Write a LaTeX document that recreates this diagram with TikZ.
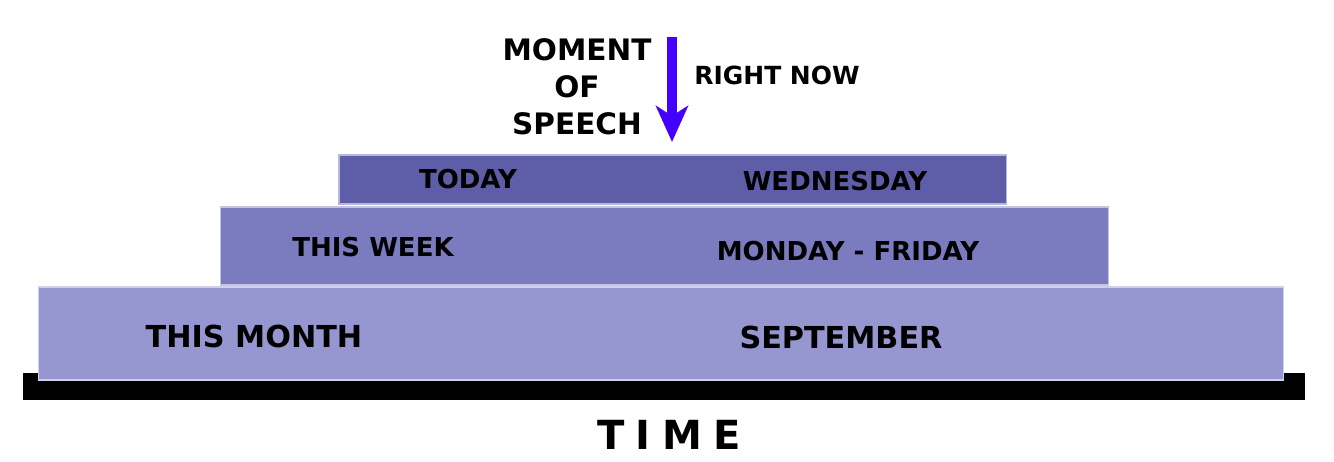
\documentclass[tikz,border=0pt]{standalone}
\usepackage{fontspec}
\setmainfont{DejaVu Sans}
\newfontfamily\timefont[LetterSpace=28]{DejaVu Sans Bold}
\usetikzlibrary{arrows.meta}
\definecolor{todaycol}{RGB}{94,94,168}
\definecolor{weekcol}{RGB}{123,123,192}
\definecolor{monthcol}{RGB}{150,150,208}
\definecolor{nowcol}{RGB}{68,0,255}
\tikzset{
  period/.style={rectangle, inner sep=0pt, draw=white!55!#1, line width=0.4pt, fill=#1},
  tag/.style={font=\bfseries\fontsize{7.4}{9}\selectfont, inner sep=0pt}
}

\begin{document}
\begin{tikzpicture}[x=0.01cm, y=-0.01cm]
\useasboundingbox (0,0) rectangle (1334,462);
% Time line
    \node[rectangle, fill=black, inner sep=0pt, minimum width=12.82cm, minimum height=0.27cm] (timeline) at (664,386.5) {};
% Periods
    \node[period=monthcol, minimum width=12.44cm, minimum height=0.93cm] (month) at (661,333.5) {};
    \node[period=weekcol, minimum width=8.87cm, minimum height=0.78cm] (week) at (664.5,246) {};
    \node[period=todaycol, minimum width=6.67cm, minimum height=0.49cm] (today) at (672.5,179.5) {};
% Labels
    \node[tag] (todaylbl) at (468,179) {TODAY};
    \node[tag] (wedlbl) at (835,181) {WEDNESDAY};
    \node[tag] (weeklbl) at (373,247) {THIS WEEK};
    \node[tag] (monfrilbl) at (848,251) {MONDAY - FRIDAY};
    \node[tag, font=\bfseries\fontsize{8.6}{10}\selectfont] (monthlbl) at (254,337) {THIS MONTH};
    \node[tag, font=\bfseries\fontsize{8.6}{10}\selectfont] (seplbl) at (841,338) {SEPTEMBER};
    \node[tag, font=\timefont\fontsize{11.4}{13}\selectfont] (timelbl) at (669,435) {TIME};
% Moment of speech
    \node[tag, font=\bfseries\fontsize{8.4}{10.5}\selectfont, align=center] (moment) at (577,87) {MOMENT\\OF\\SPEECH};
    \node[tag, font=\bfseries\fontsize{7.1}{9}\selectfont] (nowlbl) at (777,75) {RIGHT NOW};
    \coordinate (nowtop) at (672,37);
    \coordinate (nowtip) at (672,142);
    \draw[nowcol, line width=2.9pt, -{Stealth[length=0.36cm, width=0.32cm, inset=0.1cm]}] (nowtop) -- (nowtip);
\end{tikzpicture}
\end{document}
